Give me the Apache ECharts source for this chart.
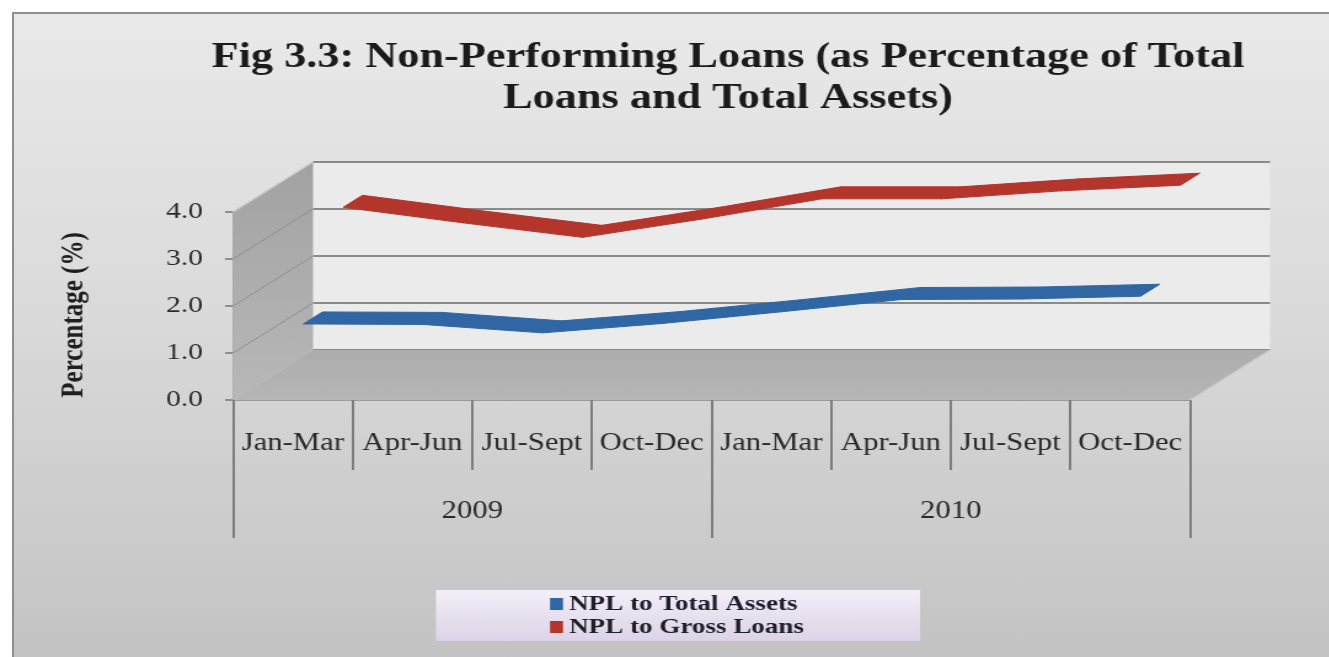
<!DOCTYPE html>
<html>
<head>
<meta charset="utf-8">
<script src="https://cdn.jsdelivr.net/npm/echarts@6/dist/echarts.min.js"></script>
<style>
  html, body { margin: 0; padding: 0; background: #ffffff; overflow: hidden; }
  #frame {
    position: absolute; left: 12px; top: 12px; width: 1340px; height: 660px;
    border-top: 2px solid #8e8e8e; border-left: 2px solid #8e8e8e;
    background: linear-gradient(#e9e9e9 0%, #dadada 45%, #c2c2c2 100%);
  }
  #chart { position: absolute; left: 0; top: 0; height: 657px; transform-origin: 0 0; }
</style>
</head>
<body>
<div id="frame"></div>
<div id="chart"></div>
<script>
// ---- data ----
const quarters = ['Jan-Mar', 'Apr-Jun', 'Jul-Sept', 'Oct-Dec', 'Jan-Mar', 'Apr-Jun', 'Jul-Sept', 'Oct-Dec'];
const years = ['2009', '2010'];
const yTickLabels = ['0.0', '1.0', '2.0', '3.0', '4.0'];
const nplTotalAssets = [1.48, 1.47, 1.29, 1.49, 1.74, 2.00, 2.01, 2.07];
const nplGrossLoans = [3.43, 3.10, 2.79, 3.18, 3.61, 3.61, 3.78, 3.90];
const seriesNames = ['NPL to Total Assets', 'NPL to Gross Loans'];

// ---- layout (the canvas is drawn narrow and widened by STRETCH) ----
const STRETCH = 1.23;
const sx = v => v / STRETCH;
const W = 1329 / STRETCH;
const DEPTH = [sx(80), -50];          // projection of the full depth axis
const RIBBON = 0.24;                   // ribbon width as a share of depth
const SERIF = 'Liberation Serif, Times New Roman, serif';

const dom = document.getElementById('chart');
dom.style.width = W + 'px';
dom.style.transform = 'scaleX(' + STRETCH + ')';
const chart = echarts.init(dom, null, { renderer: 'canvas' });

// side wall, floor and their guide lines, placed from the front plane's scales
function renderWalls(params, api) {
  const band = api.size([1, 0])[0];
  const first0 = api.coord([0, 0]);
  const last0 = api.coord([quarters.length - 1, 0]);
  const xl = first0[0] - band / 2;
  const xr = last0[0] + band / 2;
  const y0 = first0[1];
  const y4 = api.coord([0, 4])[1];
  const dx = DEPTH[0], dy = DEPTH[1];
  const children = [];
  children.push({
    type: 'polygon',
    shape: { points: [[xl, y4], [xl + dx, y4 + dy], [xl + dx, y0 + dy], [xl, y0]] },
    style: { fill: new echarts.graphic.LinearGradient(0, 0, 0, 1, [
      { offset: 0, color: '#a2a2a2' }, { offset: 1, color: '#b8b8b8' }]) }
  });
  for (let v = 1; v <= 3; v++) {
    const y = api.coord([0, v])[1];
    children.push({
      type: 'line',
      shape: { x1: xl, y1: y, x2: xl + dx, y2: y + dy },
      style: { stroke: '#8f8f8f', lineWidth: 1 }
    });
  }
  children.push({
    type: 'line',
    shape: { x1: xl, y1: y4, x2: xl + dx, y2: y4 + dy },
    style: { stroke: '#c8c8c8', lineWidth: 1.5 }
  });
  children.push({
    type: 'polygon',
    shape: { points: [[xl, y0], [xr, y0], [xr + dx, y0 + dy], [xl + dx, y0 + dy]] },
    style: { fill: new echarts.graphic.LinearGradient(0, 0, 0, 1, [
      { offset: 0, color: '#adadad' }, { offset: 1, color: '#b6b6b6' }]) }
  });
  children.push({
    type: 'line',
    shape: { x1: xr, y1: y0, x2: xr + dx, y2: y0 + dy },
    style: { stroke: '#c9c9c9', lineWidth: 1.5 }
  });
  return { type: 'group', children };
}

// a flat 3-D ribbon between consecutive points, at a given depth row
function ribbon(values, depthCenter) {
  return function (params, api) {
    const i = params.dataIndex;
    if (i >= values.length - 1) return null;
    const a = api.coord([i, api.value(1)]);
    const b = api.coord([i + 1, values[i + 1]]);
    const t0 = depthCenter - RIBBON / 2, t1 = depthCenter + RIBBON / 2;
    const off = (p, t) => [p[0] + DEPTH[0] * t, p[1] + DEPTH[1] * t];
    const color = api.visual('color');
    return {
      type: 'polygon',
      shape: { points: [off(a, t0), off(b, t0), off(b, t1), off(a, t1)] },
      style: { fill: color, stroke: color, lineWidth: 1 }
    };
  };
}

const toPairs = arr => arr.map((v, i) => [i, v]);

chart.setOption({
  animation: false,
  title: {
    text: 'Fig 3.3: Non-Performing Loans (as Percentage of Total\nLoans and Total Assets)',
    left: sx(728), top: 37, padding: 0, textAlign: 'center',
    textStyle: { fontFamily: SERIF, fontWeight: 'bold', fontSize: 36, lineHeight: 41, color: '#1b1b1b' }
  },
  legend: {
    data: seriesNames,
    orient: 'vertical',
    left: sx(436), top: 590,
    padding: [3, sx(116), 3, sx(114)],
    icon: 'rect', itemWidth: sx(13), itemHeight: 12, itemGap: 1,
    backgroundColor: new echarts.graphic.LinearGradient(0, 0, 0, 1, [
      { offset: 0, color: '#f3eff8' }, { offset: 1, color: '#ddd3e8' }]),
    textStyle: { fontFamily: SERIF, fontWeight: 'bold', fontSize: 22, lineHeight: 22, color: '#1f1f2a' }
  },
  grid: [
    { left: sx(233), width: sx(957), top: 212, height: 188 },
    { left: sx(313), width: sx(957), top: 162, height: 188, show: true, backgroundColor: '#ebebeb', borderWidth: 0 }
  ],
  xAxis: [
    {
      type: 'category', gridIndex: 0, data: quarters, position: 'bottom',
      axisLine: { show: true, lineStyle: { color: '#9a9a9a', width: 1 } },
      axisTick: { show: true, interval: 0, length: 70, lineStyle: { color: '#7d7d7d', width: 2 } },
      axisLabel: { interval: 0, margin: 31, fontFamily: SERIF, fontSize: 25, color: '#2a2a2a' }
    },
    {
      type: 'category', gridIndex: 0, data: years, position: 'bottom',
      axisLine: { show: false },
      axisTick: { show: true, interval: 0, length: 138, lineStyle: { color: '#7d7d7d', width: 2 } },
      axisLabel: { interval: 0, margin: 99, fontFamily: SERIF, fontSize: 25, color: '#2a2a2a' }
    },
    { type: 'category', gridIndex: 1, data: quarters, show: false }
  ],
  yAxis: [
    {
      type: 'value', gridIndex: 0, min: 0, max: 4, interval: 1,
      axisLine: { show: true, lineStyle: { color: '#8f8f8f', width: 1.5 } },
      axisTick: { show: true, length: sx(8), lineStyle: { color: '#8f8f8f', width: 2 } },
      axisLabel: { margin: sx(30), fontFamily: SERIF, fontSize: 24, color: '#2a2a2a',
        formatter: v => yTickLabels[Math.round(v)] },
      splitLine: { show: false }
    },
    {
      type: 'value', gridIndex: 1, min: 0, max: 4, interval: 1,
      axisLine: { show: false }, axisTick: { show: false }, axisLabel: { show: false },
      splitLine: { show: true, lineStyle: { color: '#8a8a8a', width: 2 } }
    }
  ],
  graphic: [{
    type: 'text', x: sx(75), y: 315, rotation: Math.PI / 2,
    style: { text: 'Percentage (%)', font: 'bold 25px ' + SERIF, fill: '#1f1f1f', align: 'center', verticalAlign: 'middle' }
  }],
  series: [
    {
      type: 'custom', name: 'walls', xAxisIndex: 0, yAxisIndex: 0, z: 1,
      data: [[0, 0]], renderItem: renderWalls, silent: true
    },
    {
      type: 'custom', name: seriesNames[0], xAxisIndex: 0, yAxisIndex: 0, z: 3,
      itemStyle: { color: '#2f66a3' },
      encode: { x: 0, y: 1 },
      data: toPairs(nplTotalAssets), renderItem: ribbon(nplTotalAssets, 0.25)
    },
    {
      type: 'custom', name: seriesNames[1], xAxisIndex: 0, yAxisIndex: 0, z: 2,
      itemStyle: { color: '#b3352b' },
      encode: { x: 0, y: 1 },
      data: toPairs(nplGrossLoans), renderItem: ribbon(nplGrossLoans, 0.75)
    }
  ]
});
</script>
</body>
</html>
